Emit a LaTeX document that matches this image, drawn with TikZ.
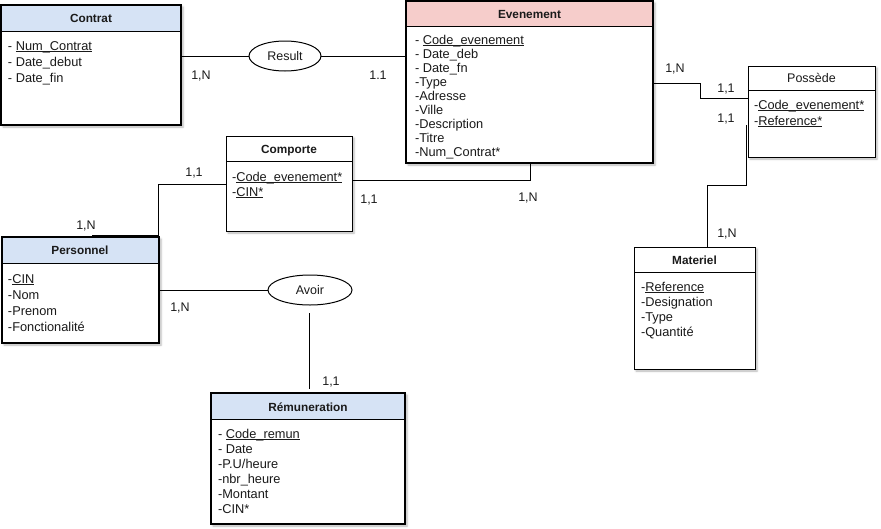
\documentclass[tikz,border=0pt]{standalone}
\usepackage{fontspec}
\setmainfont{Liberation Sans}
\usetikzlibrary{shapes.geometric,shadows.blur,calc}
\definecolor{hdrblue}{HTML}{D6E3F5}
\definecolor{hdrpink}{HTML}{F6CDCB}
\definecolor{txt}{HTML}{1A1A1A}
\newcommand\undl[1]{\setbox0\hbox{#1}\rlap{\rule[-1.4pt]{\wd0}{0.8pt}}\box0}
\begin{document}
\begin{tikzpicture}[x=1pt,y=-1pt,
  every node/.style={inner sep=0pt, outer sep=0pt, text=txt},
  ent/.style n args={4}{draw, fill=white, minimum width=#1pt, minimum height=#2pt,
     blur shadow={shadow xshift=2pt, shadow yshift=-2pt, shadow blur radius=2pt, shadow opacity=30},
     path picture={\fill[#4] (path picture bounding box.north west) rectangle ([yshift=-#3pt]path picture bounding box.north east);
       \draw[black, line width=1pt] ([yshift=-#3pt]path picture bounding box.north west) -- ([yshift=-#3pt]path picture bounding box.north east);}},
  thin/.style={line width=1pt},
  thickb/.style={line width=2pt},
  title/.style={anchor=base, font=\fontsize{11.8}{14}\selectfont\bfseries},
  attr/.style={anchor=base west, font=\fontsize{12.8}{14}\selectfont},
  card/.style={anchor=base, font=\fontsize{12.5}{14}\selectfont},
  rel/.style={ellipse, draw, fill=white, line width=1pt, font=\fontsize{12.5}{14}\selectfont},
  conn/.style={line width=1pt}
]
\useasboundingbox (0,0) rectangle (881,528);

% ---------- entities ----------
\node[ent={180}{120}{26}{hdrblue}, thickb] (contrat) at (91,65) {};
\node[title] (contratT) at (91,22.5) {Contrat};
\foreach \t [count=\i] in {{- \undl{Num\_Contrat}}, {- Date\_debut}, {- Date\_fin}}
  \node[attr] (ct\i) at (8,34.5+16*\i) {\t};

\node[ent={247}{162}{25}{hdrpink}, thickb] (evenement) at (529.5,82) {};
\node[title] (evenementT) at (529.5,18.5) {Evenement};
\foreach \t [count=\i] in {{- \undl{Code\_evenement}}, {- Date\_deb}, {- Date\_fn}, {-Type}, {-Adresse}, {-Ville}, {-Description}, {-Titre}, {-Num\_Contrat*}}
  \node[attr] (ev\i) at (415,30.5+14*\i) {\t};

\node[ent={127}{91}{24}{white}, thin] (possede) at (811.5,111.5) {};
\node[title, font=\fontsize{12.5}{14}\selectfont] (possedeT) at (811.5,82.5) {Possède};
\foreach \t [count=\i] in {{-\undl{Code\_evenement*}}, {-\undl{Reference*}}}
  \node[attr] (po\i) at (754,93.5+16*\i) {\t};

\node[ent={121}{122}{25}{white}, thin] (materiel) at (694.5,308) {};
\node[title] (materielT) at (694.5,264.5) {Materiel};
\foreach \t [count=\i] in {{-\undl{Reference}}, {-Designation}, {-Type}, {-Quantité}}
  \node[attr] (ma\i) at (641,276.5+15*\i) {\t};

\node[ent={126}{95}{25}{white}, thin] (comporte) at (289,183.5) {};
\node[title] (comporteT) at (289,153.5) {Comporte};
\foreach \t [count=\i] in {{-\undl{Code\_evenement*}}, {-\undl{CIN*}}}
  \node[attr] (co\i) at (232,166.5+15*\i) {\t};

\node[ent={157}{106}{26}{hdrblue}, thickb] (personnel) at (80.5,290) {};
\node[title] (personnelT) at (80,254.5) {Personnel};
\foreach \t [count=\i] in {{-\undl{CIN}}, {-Nom}, {-Prenom}, {-Fonctionalité}}
  \node[attr] (pe\i) at (8,267.5+16*\i) {\t};

\node[ent={194}{131}{26}{hdrblue}, thickb] (remun) at (308,458.5) {};
\node[title] (remunT) at (308,411.5) {Rémuneration};
\foreach \t [count=\i] in {{- \undl{Code\_remun}}, {- Date}, {-P.U/heure}, {-nbr\_heure}, {-Montant}, {-CIN*}}
  \node[attr] (re\i) at (218,423.5+15*\i) {\t};

% ---------- relations ----------
\node[rel, minimum width=72pt, minimum height=30pt] (result) at (285,56) {Result};
\node[rel, minimum width=84pt, minimum height=30pt] (avoir) at (310,290) {Avoir};

% ---------- connectors ----------
\draw[conn] (result.west) -- (result.west -| contrat.east);
\draw[conn] (result.east) -- (result.east -| evenement.west);

\coordinate (ep) at (700,83);
\coordinate (pp) at (700,98);
\draw[conn] (ep -| evenement.east) -- (ep) -- (pp) -- (pp -| possede.west);

\coordinate (pm) at (746,125);
\coordinate (pm2) at (746,185);
\coordinate (pm3) at (707,185);
\draw[conn] (pm) -- (pm2) -- (pm3) -- (pm3 |- materiel.north);

\coordinate (ce) at (530,180);
\draw[conn] (ce -| comporte.east) -- (ce) -- (ce |- evenement.south);

\coordinate (cp) at (158,184);
\coordinate (cp2) at (158,235.5);
\coordinate (cp3) at (92,235.5);
\draw[conn] (cp -| comporte.west) -- (cp) -- (cp2) -- (cp3);

\draw[conn] (avoir.west) -- (avoir.west -| personnel.east);
\coordinate (ar) at (309,313);
\coordinate (ar2) at (309,389);
\draw[conn] (ar) -- (ar2);

% ---------- cardinalities ----------
\node[card] (c1) at (201,79.5) {1,N};
\node[card] (c2) at (378,79.5) {1.1};
\node[card] (c3) at (675,72.5) {1,N};
\node[card] (c4) at (726,92.5) {1,1};
\node[card] (c5) at (726,122.5) {1,1};
\node[card] (c6) at (727,237.5) {1,N};
\node[card] (c7) at (194,176.5) {1,1};
\node[card] (c8) at (86,229.5) {1,N};
\node[card] (c9) at (369,203.5) {1,1};
\node[card] (c10) at (528,201.5) {1,N};
\node[card] (c11) at (180,311.5) {1,N};
\node[card] (c12) at (331,385.5) {1,1};
\end{tikzpicture}
\end{document}
